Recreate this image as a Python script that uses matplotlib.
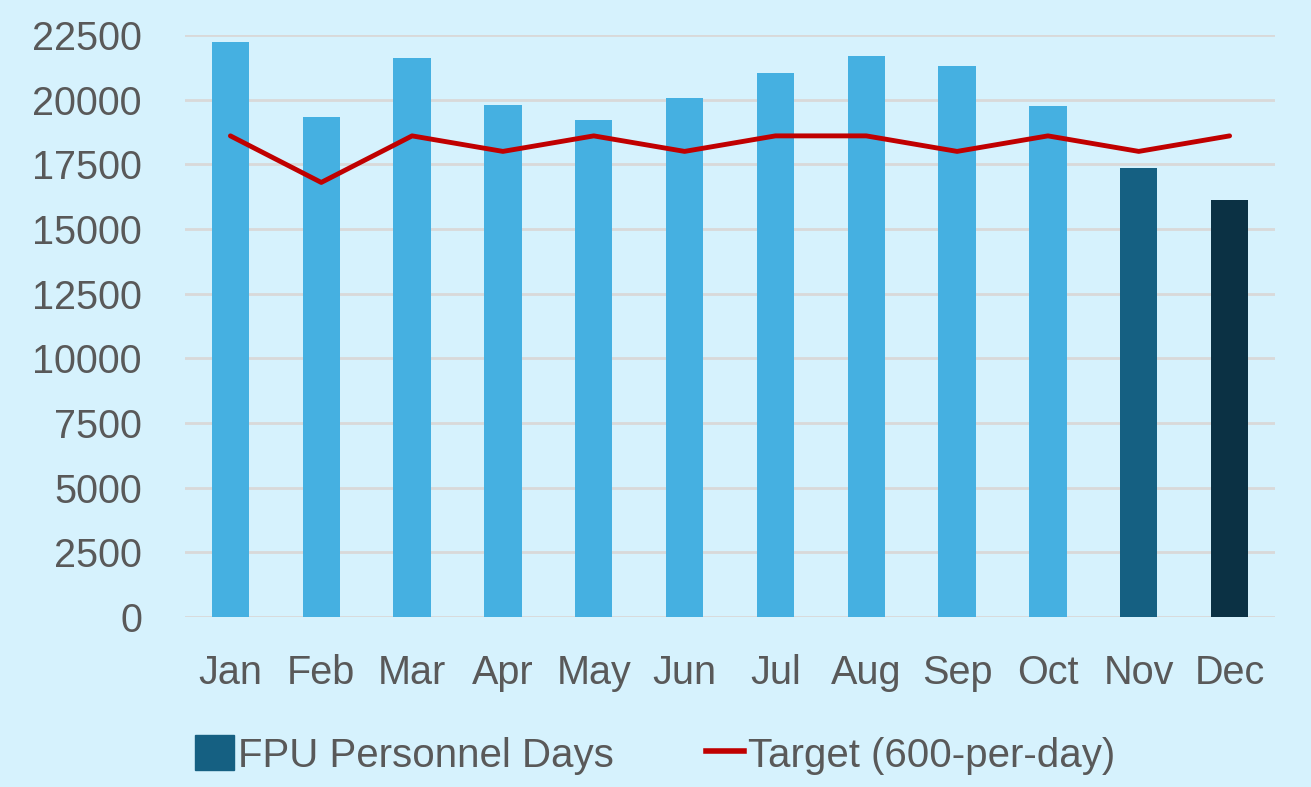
import matplotlib
matplotlib.use("Agg")
import matplotlib.pyplot as plt
from matplotlib.patches import Patch
from matplotlib.lines import Line2D

# Data
months = ["Jan", "Feb", "Mar", "Apr", "May", "Jun", "Jul", "Aug", "Sep", "Oct", "Nov", "Dec"]
personnel_days = [22230, 19330, 21610, 19790, 19210, 20060, 21030, 21690, 21300, 19750, 17360, 16120]
target = [18600, 16800, 18600, 18000, 18600, 18000, 18600, 18600, 18000, 18600, 18000, 18600]
yticks = [0, 2500, 5000, 7500, 10000, 12500, 15000, 17500, 20000, 22500]

bg = "#D6F2FD"
txt = "#595959"
bar_colors = ["#45B0E1"] * 10 + ["#156082", "#0B3144"]

plt.rcParams["font.family"] = ["Liberation Sans", "DejaVu Sans"]

fig = plt.figure(figsize=(13.11, 7.87), dpi=100, facecolor=bg)
ax = fig.add_axes([185 / 1311, 1 - 617 / 787, 1090 / 1311, 582 / 787])
ax.set_facecolor(bg)

x = range(len(months))
ax.bar(x, personnel_days, width=0.41, color=bar_colors, zorder=2)
ax.plot(x, target, color="#C00000", lw=3.5, zorder=3, solid_capstyle="round")

ax.set_xlim(-0.5, 11.5)
ax.set_ylim(0, 22500)
ax.set_yticks(yticks)
ax.set_yticklabels([str(v) for v in yticks])
ax.set_xticks(list(x))
ax.set_xticklabels(months)
ax.tick_params(axis="both", length=0, labelsize=28.5, colors=txt)
ax.tick_params(axis="y", pad=31)
ax.tick_params(axis="x", pad=27)
ax.grid(axis="y", color="#D9D9D9", lw=2, zorder=0)
for s in ax.spines.values():
    s.set_visible(False)

handles = [Patch(color="#156082"), Line2D([0], [0], color="#C00000", lw=4)]
fig.legend(handles, ["FPU Personnel Days", "Target (600-per-day)"],
           loc="center", bbox_to_anchor=(0.5, 1 - 755 / 787), ncol=2, frameon=False,
           fontsize=29, labelcolor=txt, handlelength=0.95, handletextpad=0.1,
           columnspacing=2.3, handleheight=0.95)

fig.savefig("out.png", dpi=100, facecolor=bg)
